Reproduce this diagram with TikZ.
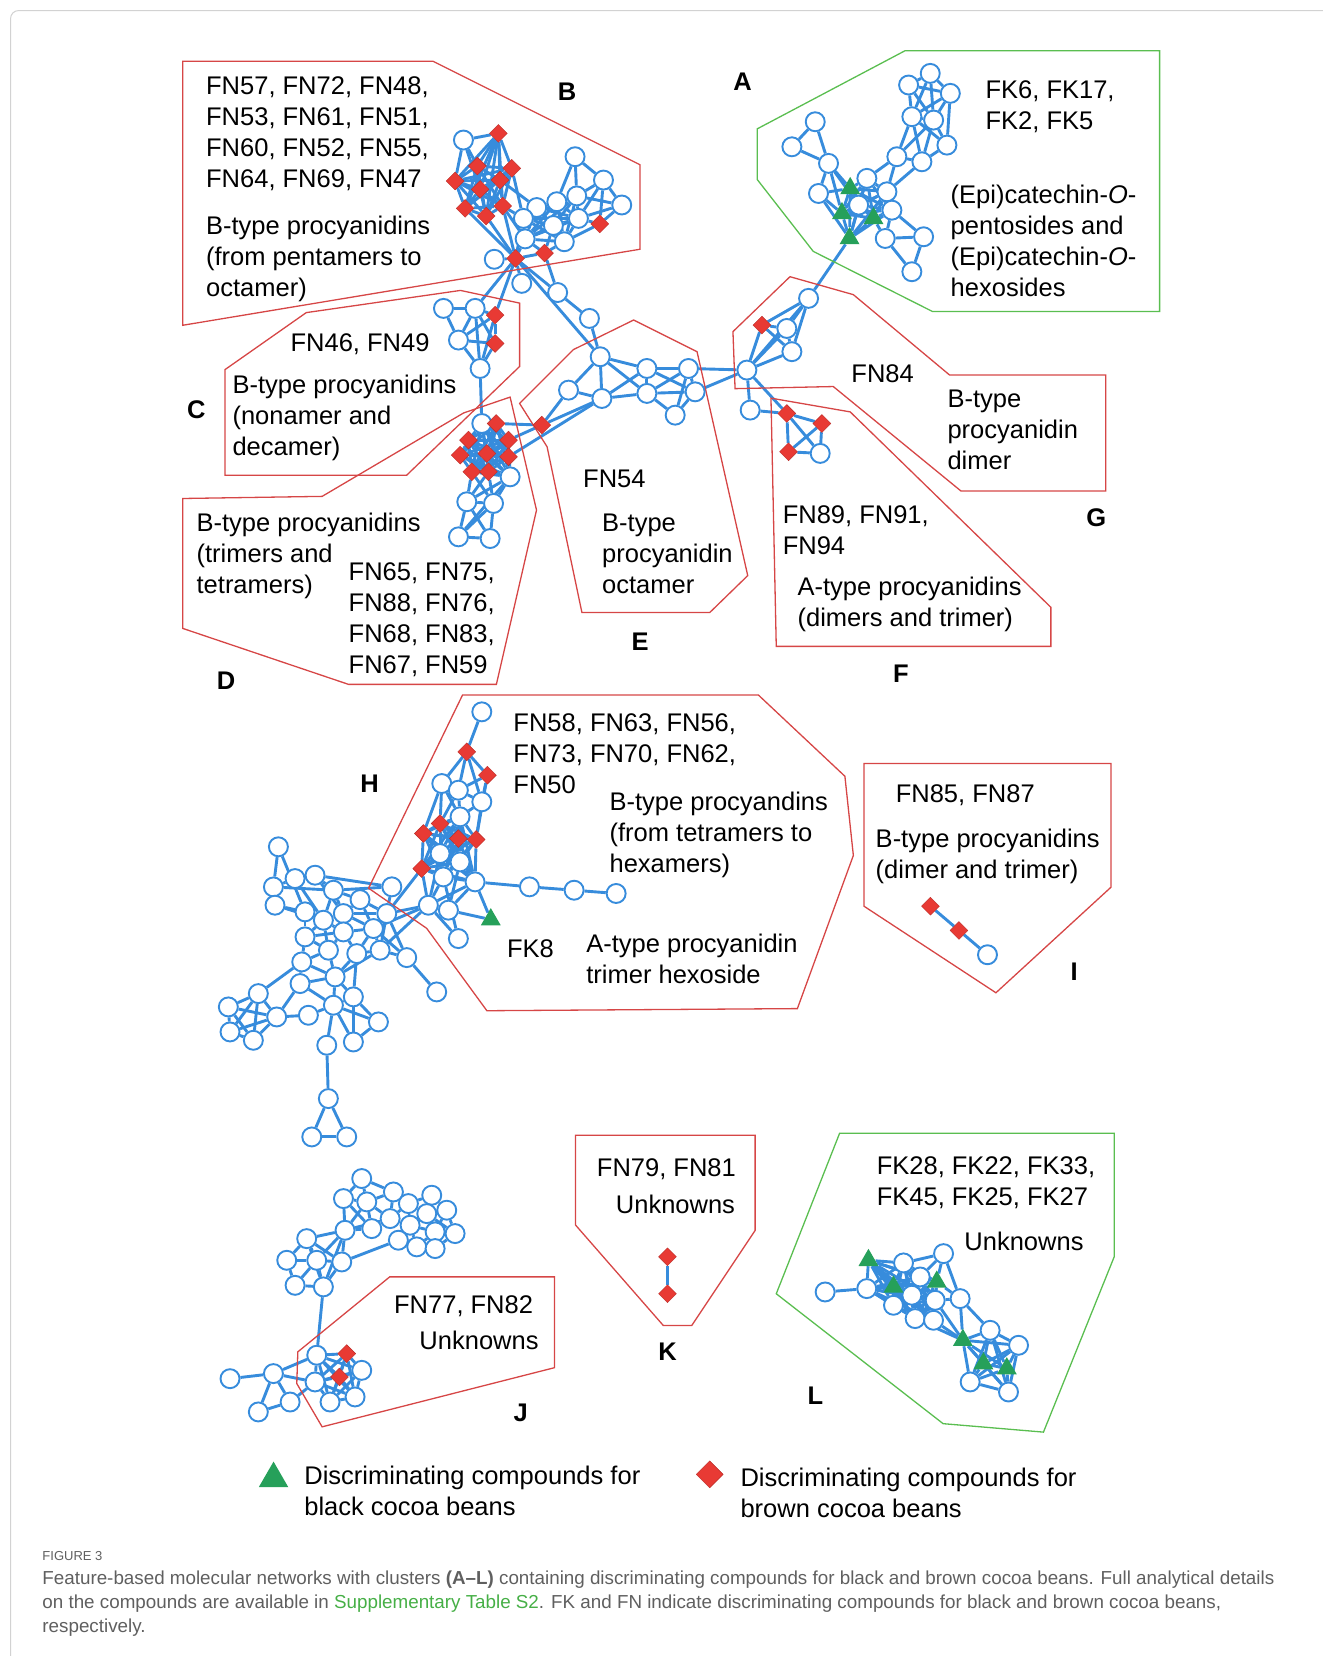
\documentclass[tikz,border=0pt]{standalone}
\usepackage{fontspec}
\setmainfont{Liberation Sans}
\usetikzlibrary{shapes.geometric}

\definecolor{netblue}{RGB}{55,140,220}
\definecolor{fnred}{RGB}{232,58,52}
\definecolor{fkgreen}{RGB}{38,160,90}
\definecolor{boxred}{RGB}{214,70,70}
\definecolor{boxgreen}{RGB}{90,190,80}
\definecolor{capgray}{RGB}{95,95,95}
\definecolor{supgreen}{RGB}{70,175,70}

\pgfdeclarelayer{edges}
\pgfsetlayers{edges,main}

\newcommand\netfont{\fontsize{25.5}{31}\selectfont}
% all pairs of a numbered group of nodes
\newcommand\clique[2]{\foreach \i in {1,...,#2}{\foreach \j in {1,...,#2}{\ifnum\i<\j\relax \draw[edge] (#1\i) -- (#1\j);\fi}}}

\begin{document}
\begin{tikzpicture}[x=1.0559pt, y=-1.0559pt,
    nd/.style={circle, draw=netblue, fill=white, line width=1.9pt, inner sep=0, minimum size=19pt},
    fn/.style={diamond, fill=fnred, draw=fnred!80!black, line width=0.4pt, inner sep=0, minimum size=18pt},
    fk/.style={regular polygon, regular polygon sides=3, fill=fkgreen, inner sep=0, minimum size=23pt},
    edge/.style={netblue, line width=2.9pt},
    redbox/.style={boxred, line width=1.3pt},
    greenbox/.style={boxgreen, line width=1.3pt},
    lbl/.style={anchor=base west, align=left, inner sep=0, font=\netfont},
    tag/.style={font=\netfont\bfseries, inner sep=0}]

    \useasboundingbox (0,0) rectangle (1252,1568);
    \draw[gray!35, line width=1pt, rounded corners=8] (10,10) rectangle (1270,1590);

    % cluster outlines
    \draw[redbox] (173,58) -- (410,58) -- (606,156) -- (606,236) -- (173,308) -- cycle;
    \draw[greenbox] (717,122) -- (857,48) -- (1098,48) -- (1098,295) -- (883,295) -- (770,238) -- (717,170) -- cycle;
    \draw[redbox] (213,350) -- (290,296) -- (436,275) -- (492,287) -- (492,347) -- (385,450) -- (213,450) -- cycle;
    \draw[redbox] (173,472) -- (305,470) -- (439,391) -- (483,376) -- (508,483) -- (470,648) -- (330,648) -- (173,595) -- cycle;
    \draw[redbox] (492,382) -- (543,331) -- (600,303) -- (660,333) -- (708,545) -- (672,580) -- (551,580) -- (518,423) -- cycle;
    \draw[redbox] (694,314) -- (748,262) -- (808,279) -- (899,355) -- (1047,355) -- (1047,465) -- (910,465) -- (789,366) -- (696,368) -- cycle;
    \draw[redbox] (730,377) -- (805,390) -- (995,575) -- (995,612) -- (735,612) -- cycle;
    \draw[redbox] (438,658) -- (718,658) -- (800,735) -- (808,810) -- (755,955) -- (461,957) -- (404,879) -- (349,841) -- cycle;
    \draw[redbox] (818,723) -- (1052,723) -- (1052,840) -- (943,940) -- (818,858) -- cycle;
    \draw[redbox] (545,1075) -- (715,1075) -- (715,1165) -- (655,1255) -- (628,1255) -- (545,1160) -- cycle;
    \draw[redbox] (369,1209) -- (525,1209) -- (525,1295) -- (305,1351) -- (281,1310) -- (282,1280) -- cycle;
    \draw[greenbox] (795,1073) -- (1055,1073) -- (1055,1190) -- (988,1356) -- (893,1348) -- (735,1225) -- cycle;

    % cluster B
    \node[nd] (b0) at (438.8,132.6) {};
    \node[fn] (bl1) at (471.9,126.3) {};
    \node[fn] (bl2) at (452.0,157.2) {};
    \node[fn] (bl3) at (484.6,159.4) {};
    \node[fn] (bl4) at (430.9,171.4) {};
    \node[fn] (bl5) at (454.6,179.3) {};
    \node[fn] (bl6) at (473.5,170.5) {};
    \node[fn] (bl7) at (440.4,197.3) {};
    \node[fn] (bl8) at (460.3,204.6) {};
    \node[fn] (bl9) at (476.0,195.1) {};
    \node[nd] (b1) at (544.5,148.4) {};
    \node[nd] (b2) at (571.4,170.5) {};
    \node[nd] (b3) at (588.7,194.1) {};
    \node[nd] (br1) at (546.1,185.5) {};
    \node[nd] (br2) at (527.2,191.0) {};
    \node[nd] (br3) at (508.2,196.5) {};
    \node[nd] (br4) at (495.6,206.8) {};
    \node[nd] (br5) at (524.0,213.5) {};
    \node[nd] (br6) at (547.7,206.8) {};
    \node[nd] (br7) at (497.2,226.2) {};
    \node[nd] (br8) at (534.3,228.9) {};
    \node[fn] (bd10) at (567.9,212.0) {};
    \node[fn] (bd11) at (488.2,244.7) {};
    \node[fn] (bd12) at (515.6,239.6) {};
    \node[nd] (b12) at (468.0,245.5) {};
    \node[nd] (b13) at (494.0,268.3) {};
    \node[nd] (b14) at (528.0,277.0) {};
    \node[nd] (b15) at (558.1,301.5) {};

    % cluster C
    \node[nd] (c1) at (419.9,292.0) {};
    \node[nd] (c2) at (449.9,292.0) {};
    \node[fn] (cd1) at (468.8,298.4) {};
    \node[nd] (c3) at (434.1,322.0) {};
    \node[fn] (cd2) at (468.8,325.2) {};
    \node[nd] (c4) at (454.6,348.9) {};

    % cluster D
    \node[nd] (dc1) at (456.2,401.0) {};
    \node[fn] (dc2) at (469.8,401.0) {};
    \node[fn] (dc3) at (443.6,416.7) {};
    \node[fn] (dc4) at (481.5,416.7) {};
    \node[fn] (dc5) at (435.7,431.0) {};
    \node[fn] (dc6) at (461.0,429.4) {};
    \node[fn] (dc7) at (481.5,432.5) {};
    \node[fn] (dc8) at (446.7,446.7) {};
    \node[fn] (dc9) at (462.5,446.7) {};
    \node[nd] (dc10) at (483.0,451.5) {};
    \node[nd] (d2) at (442.0,475.1) {};
    \node[nd] (d3) at (467.3,476.7) {};
    \node[nd] (d4) at (434.1,508.3) {};
    \node[nd] (d5) at (464.1,509.9) {};
    \node[fn] (x1) at (513.0,402.5) {};

    % cluster E
    \node[nd] (e1) at (568.3,337.8) {};
    \node[nd] (e2) at (538.3,369.4) {};
    \node[nd] (e3) at (569.9,377.3) {};
    \node[nd] (e4) at (612.5,348.9) {};
    \node[nd] (e5) at (612.5,372.5) {};
    \node[nd] (e6) at (651.9,348.9) {};
    \node[nd] (e7) at (658.2,371.0) {};
    \node[nd] (e8) at (639.3,393.1) {};

    % clusters G and F
    \node[nd] (g1) at (765.6,282.5) {};
    \node[fn] (gd1) at (721.4,307.8) {};
    \node[nd] (g2) at (745.0,311.0) {};
    \node[nd] (g3) at (749.8,333.0) {};
    \node[nd] (g0) at (707.2,350.4) {};
    \node[nd] (f1) at (710.3,388.3) {};
    \node[fn] (fd1) at (745.0,391.5) {};
    \node[fn] (fd2) at (778.2,401.0) {};
    \node[fn] (fd3) at (746.6,427.8) {};
    \node[nd] (f2) at (776.6,429.3) {};

    % cluster A
    \node[nd] (a1) at (771.9,115.3) {};
    \node[nd] (a2) at (749.8,139.0) {};
    \node[nd] (a3) at (784.5,154.7) {};
    \node[nd] (a4) at (775.0,183.2) {};
    \node[nd] (ac2) at (820.8,168.9) {};
    \node[nd] (ac3) at (839.8,181.6) {};
    \node[nd] (ac4) at (813.0,194.2) {};
    \node[nd] (ac5) at (844.5,199.0) {};
    \node[nd] (a9) at (838.2,225.8) {};
    \node[nd] (a10) at (874.5,224.2) {};
    \node[nd] (a11) at (863.4,257.3) {};
    \node[nd] (a12) at (849.2,148.4) {};
    \node[nd] (a13) at (872.9,153.2) {};
    \node[nd] (a14) at (863.4,110.5) {};
    \node[nd] (a15) at (884.0,113.7) {};
    \node[nd] (a16) at (896.6,137.4) {};
    \node[nd] (a17) at (860.3,80.5) {};
    \node[nd] (a18) at (880.8,69.5) {};
    \node[nd] (a19) at (899.8,88.4) {};
    \node[fk] (ac1) at (805.0,178.4) {};
    \node[fk] (ac6) at (797.2,202.1) {};
    \node[fk] (ac7) at (827.1,206.8) {};
    \node[fk] (ac8) at (804.4,225.8) {};

    % cluster H
    \node[nd] (h1) at (456.2,674.0) {};
    \node[fn] (hd1) at (441.9,711.9) {};
    \node[fn] (hd2) at (461.5,734.0) {};
    \node[nd] (h2) at (418.3,741.9) {};
    \node[nd] (h3) at (434.0,748.2) {};
    \node[nd] (h4) at (456.2,759.2) {};
    \node[nd] (hc1) at (435.6,773.4) {};
    \node[nd] (hc6) at (416.7,808.2) {};
    \node[nd] (hc7) at (435.6,816.1) {};
    \node[nd] (hc9) at (419.8,830.3) {};
    \node[nd] (hc10) at (449.8,835.0) {};
    \node[fn] (hc2) at (416.7,779.8) {};
    \node[fn] (hc3) at (400.9,789.2) {};
    \node[fn] (hc4) at (434.0,794.0) {};
    \node[fn] (hc5) at (450.8,794.9) {};
    \node[fn] (hc8) at (399.3,822.4) {};
    \node[nd] (h5) at (501.3,839.7) {};
    \node[nd] (h6) at (543.6,842.9) {};
    \node[nd] (h7) at (583.4,846.0) {};
    \node[nd] (h8) at (405.6,857.1) {};
    \node[nd] (h9) at (424.6,861.8) {};
    \node[fk] (ht) at (464.7,870.7) {};
    \node[nd] (h10) at (434.0,888.7) {};
    \node[nd] (h11) at (371.0,839.7) {};

    \node[nd] (m1) at (263.6,801.8) {};
    \node[nd] (m2) at (258.9,839.8) {};
    \node[nd] (m3) at (279.4,831.9) {};
    \node[nd] (m4) at (298.3,828.7) {};
    \node[nd] (m5) at (260.4,857.1) {};
    \node[nd] (m6) at (315.7,842.9) {};
    \node[nd] (m7) at (340.9,851.8) {};
    \node[nd] (m8) at (288.8,863.4) {};
    \node[nd] (m9) at (306.2,871.3) {};
    \node[nd] (m10) at (325.1,865.0) {};
    \node[nd] (m11) at (366.2,865.0) {};
    \node[nd] (m12) at (288.8,887.1) {};
    \node[nd] (m13) at (325.1,882.4) {};
    \node[nd] (m14) at (353.6,879.2) {};
    \node[nd] (m15) at (311.0,899.7) {};
    \node[nd] (m16) at (337.8,902.9) {};
    \node[nd] (m17) at (359.9,899.7) {};
    \node[nd] (m18) at (385.1,906.7) {};
    \node[nd] (m19) at (285.7,910.8) {};
    \node[nd] (m20) at (317.3,925.0) {};
    \node[nd] (m21) at (413.5,939.2) {};
    \node[nd] (m22) at (284.1,931.3) {};
    \node[nd] (m23) at (244.6,940.8) {};
    \node[nd] (m24) at (216.2,953.4) {};
    \node[nd] (m25) at (262.0,962.9) {};
    \node[nd] (m26) at (217.8,977.1) {};
    \node[nd] (m27) at (239.9,985.0) {};
    \node[nd] (m28) at (292.0,961.3) {};
    \node[nd] (m29) at (315.7,951.8) {};
    \node[nd] (m30) at (334.6,943.9) {};
    \node[nd] (m31) at (358.3,967.6) {};
    \node[nd] (m32) at (334.6,986.6) {};
    \node[nd] (m33) at (309.4,989.7) {};
    \node[nd] (m34) at (310.9,1040.2) {};
    \node[nd] (m35) at (295.2,1076.5) {};
    \node[nd] (m36) at (328.3,1076.5) {};

    % cluster I
    \node[fn] (id1) at (881,858) {};
    \node[fn] (id2) at (908,881) {};
    \node[nd] (i1) at (935,904) {};

    % cluster J
    \node[nd] (j1) at (342.5,1115.9) {};
    \node[nd] (j2) at (325.2,1134.9) {};
    \node[nd] (j3) at (347.3,1138.0) {};
    \node[nd] (j4) at (372.5,1128.6) {};
    \node[nd] (j5) at (369.4,1153.8) {};
    \node[nd] (j6) at (352.0,1163.3) {};
    \node[nd] (j7) at (326.7,1164.9) {};
    \node[nd] (j8) at (386.7,1139.6) {};
    \node[nd] (j9) at (408.8,1131.7) {};
    \node[nd] (j10) at (423.0,1145.9) {};
    \node[nd] (j11) at (404.1,1149.1) {};
    \node[nd] (j12) at (388.3,1160.1) {};
    \node[nd] (j13) at (430.9,1168.0) {};
    \node[nd] (j14) at (412.0,1166.4) {};
    \node[nd] (j15) at (377.2,1174.3) {};
    \node[nd] (j16) at (394.6,1180.6) {};
    \node[nd] (j17) at (412.0,1182.2) {};
    \node[nd] (j18) at (290.4,1172.8) {};
    \node[nd] (j19) at (271.5,1193.3) {};
    \node[nd] (j20) at (299.9,1193.3) {};
    \node[nd] (j21) at (323.6,1194.9) {};
    \node[nd] (j23) at (279.4,1217.0) {};
    \node[nd] (j24) at (306.2,1218.5) {};
    \node[nd] (jc1) at (299.9,1283.2) {};
    \node[nd] (jc4) at (342.5,1297.5) {};
    \node[nd] (jc5) at (298.3,1308.5) {};
    \node[nd] (jc6) at (312.5,1327.5) {};
    \node[nd] (jc7) at (336.2,1322.7) {};
    \node[fn] (jc2) at (328.3,1281.7) {};
    \node[fn] (jc3) at (321.4,1303.8) {};
    \node[nd] (j26) at (258.9,1300.6) {};
    \node[nd] (j27) at (217.8,1305.4) {};
    \node[nd] (j28) at (274.7,1327.5) {};
    \node[nd] (j29) at (244.6,1336.9) {};

    % cluster K
    \node[fn] (kd1) at (632,1190) {};
    \node[fn] (kd2) at (632,1225) {};

    % cluster L
    \node[nd] (l1) at (781.3,1223.3) {};
    \node[nd] (l4) at (893.4,1187.0) {};
    \node[nd] (l8) at (909.1,1229.6) {};
    \node[nd] (lc2) at (855.5,1195.8) {};
    \node[nd] (lc3) at (820.7,1220.1) {};
    \node[nd] (lc5) at (871.3,1209.1) {};
    \node[nd] (lc7) at (863.4,1226.4) {};
    \node[nd] (lc8) at (885.5,1231.2) {};
    \node[nd] (lc9) at (846.0,1235.9) {};
    \node[nd] (lc10) at (866.5,1248.5) {};
    \node[nd] (lc11) at (883.9,1250.1) {};
    \node[fk] (lc1) at (822.3,1193.3) {};
    \node[fk] (lc4) at (846.0,1218.5) {};
    \node[fk] (lc6) at (887.0,1213.8) {};
    \node[nd] (lr2) at (937.5,1259.6) {};
    \node[nd] (lr3) at (964.4,1273.8) {};
    \node[nd] (lr6) at (918.6,1308.5) {};
    \node[nd] (lr7) at (954.9,1318.0) {};
    \node[fk] (lr1) at (911.7,1269.0) {};
    \node[fk] (lr4) at (931.2,1291.1) {};
    \node[fk] (lr5) at (953.3,1295.9) {};

    \begin{pgfonlayer}{edges}
    \clique{bl}{9} \clique{br}{8} \clique{dc}{10} \clique{ac}{8}
    \clique{hc}{10} \clique{jc}{7} \clique{lc}{11} \clique{lr}{7}
    \foreach \a/\b in {b0/bl1,b0/bl2,b0/bl4,b0/bl5,bl3/br4,bl6/br3,bl9/br4,bl9/br7,bl8/bd11,bl7/bd11,bl9/bd11,
        b1/b2,b1/br1,b1/br2,b2/b3,b2/br1,b2/br6,b2/bd10,b3/bd10,b3/br6,b3/br1,br6/bd10,br8/bd10,
        br7/bd11,br7/bd12,br8/bd12,br5/bd12,br4/bd11,bd11/bd12,bd11/b12,bd11/b13,bd11/b14,bd12/b14,
        b14/b15,b15/e1,bd11/e1,bd11/cd1,bd11/c2,
        c1/c2,c1/c3,c2/c3,c2/cd1,c2/cd2,c2/c4,c3/cd1,c3/c4,cd1/cd2,cd1/c4,cd2/c4,c3/cd2,c4/dc1,
        dc8/d2,dc9/d2,dc9/d3,dc10/d3,dc10/d2,d2/d3,d2/d4,d2/d5,d3/d4,d3/d5,d4/d5,dc8/d3,dc10/d4,
        dc2/x1,dc4/x1,x1/e2,x1/e3,dc7/e3,
        e1/e2,e1/e3,e1/e4,e1/e5,e2/e3,e3/e4,e3/e5,e4/e6,e4/e5,e5/e6,e5/e7,e4/e7,e6/e7,e6/e8,e7/e8,e5/e8,
        e6/g0,e7/g0,
        g1/gd1,g1/g2,g1/g3,g1/g0,gd1/g2,gd1/g3,gd1/g0,g2/g3,g3/g0,g2/g0,g0/f1,g0/fd1,f1/fd1,
        fd1/fd2,fd1/fd3,fd1/f2,fd2/fd3,fd2/f2,fd3/f2,ac8/g1}
        \draw[edge] (\a) -- (\b);
    \foreach \a/\b in {a1/a2,a1/a3,a2/a3,a3/a4,a3/ac1,a3/ac4,a3/ac6,a4/ac6,a4/ac8,a4/ac1,
        ac2/a12,ac3/a12,ac3/a13,a12/a13,a12/a14,a12/a15,a13/a14,a13/a15,a13/a16,a14/a15,a15/a16,a14/a16,
        a14/a17,a14/a18,a14/a19,a15/a17,a15/a18,a15/a19,a17/a18,a18/a19,a17/a19,a16/a19,
        ac5/a10,ac7/a9,ac5/a9,a9/a10,a9/a11,a10/a11}
        \draw[edge] (\a) -- (\b);
    \foreach \a/\b in {h1/hd1,hd1/hd2,hd1/h2,hd1/h3,hd1/h4,hd2/h3,hd2/h4,hd2/hc5,h2/h3,h2/hc2,h2/hc3,
        h3/h4,h3/hc1,h4/hc1,h4/hc5,h2/hc1,h3/hc2,
        hc10/h5,h5/h6,h6/h7,hc10/ht,h9/ht,h8/hc10,h8/h9,h8/hc9,h9/hc10,h9/hc7,h8/h10,hc8/h8,hc9/h10,h8/hc6,
        m6/h11,h11/m11,hc8/m11,h8/m11,h8/m14,m17/h8,
        m1/m2,m1/m8,m2/m3,m2/m5,m2/m6,m3/m4,m3/m9,m4/m6,m4/m10,m4/h11,m5/m8,m5/m9,
        m6/m7,m6/m9,m6/m10,m7/m10,m7/m11,m7/m14,m8/m9,m8/m12,m9/m10,m9/m12,m9/m13,m9/m15,
        m10/m13,m10/m11,m10/m14,m11/m14,m11/m17,m11/m18,m12/m15,m12/m13,m12/m19,
        m13/m15,m13/m16,m13/m14,m14/m16,m14/m17,m14/m18,m15/m19,m15/m20,m16/m20,m16/m17,m17/m18,
        m18/m21,m19/m20,m19/m23,m19/m22,m20/m22,m20/m29,m20/m30,m20/m17,m22/m25,m22/m29,
        m23/m24,m23/m25,m23/m26,m23/m27,m24/m25,m24/m26,m24/m27,m25/m26,m25/m27,m26/m27,
        m25/m28,m28/m29,m29/m30,m29/m31,m29/m32,m29/m33,m30/m31,m30/m32,m31/m32,m16/m30,
        m33/m34,m34/m35,m34/m36,m35/m36}
        \draw[edge] (\a) -- (\b);
    \foreach \a/\b in {id1/id2,id2/i1,kd1/kd2,
        j1/j2,j1/j3,j1/j4,j2/j3,j2/j7,j2/j6,j3/j4,j3/j5,j3/j6,j3/j7,j4/j5,j4/j8,j5/j6,j5/j8,j5/j12,
        j6/j7,j5/j7,j7/j21,j7/j18,j7/j20,j7/j24,j15/j21,j8/j9,j8/j11,j8/j12,j9/j10,j9/j11,j10/j11,
        j10/j13,j11/j12,j11/j14,j12/j14,j12/j15,j12/j16,j13/j14,j13/j17,j14/j16,j14/j17,j15/j16,
        j16/j17,j11/j13,j10/j14,
        j18/j19,j18/j20,j18/j21,j19/j20,j19/j23,j20/j21,j20/j23,j20/j24,j21/j24,j23/j24,j18/j24,
        j24/jc1,j27/j26,j26/jc1,j26/jc5,j26/j28,j26/j29,j29/j28,j28/jc5,
        l1/lc3,l4/lc2,l4/lc6,l4/l8,l4/lc5,l8/lc6,l8/lc8,l8/lr1,l8/lr2,lc11/lr1,lc10/lr1,lc8/lr1}
        \draw[edge] (\a) -- (\b);
    \end{pgfonlayer}

    % cluster texts (placed at the baseline of their last line)
    \node[lbl] (B_ids) at (195,177.1) {FN57, FN72, FN48,\\FN53, FN61, FN51,\\FN60, FN52, FN55,\\FN64, FN69, FN47};
    \node[lbl] (B_desc) at (195,280.7) {B-type procyanidins\\(from pentamers to\\octamer)};
    \node[lbl] (A_ids) at (933,122.4) {FK6, FK17,\\FK2, FK5};
    \node[lbl] (A_desc) at (900,281.1) {(Epi)catechin-\textit{O}-\\pentosides and\\(Epi)catechin-\textit{O}-\\hexosides};
    \node[lbl] (C_ids) at (275,333) {FN46, FN49};
    \node[lbl] (C_desc) at (220,431.7) {B-type procyanidins\\(nonamer and\\decamer)};
    \node[lbl] (D_desc) at (186,561.7) {B-type procyanidins\\(trimers and\\tetramers)};
    \node[lbl] (D_ids) at (330,638.1) {FN65, FN75,\\FN88, FN76,\\FN68, FN83,\\FN67, FN59};
    \node[lbl] (E_ids) at (552,462) {FN54};
    \node[lbl] (E_desc) at (570,561.7) {B-type\\procyanidin\\octamer};
    \node[lbl] (G_ids) at (806,362) {FN84};
    \node[lbl] (G_desc) at (897,444.7) {B-type\\procyanidin\\dimer};
    \node[lbl] (F_ids) at (741,525.4) {FN89, FN91,\\FN94};
    \node[lbl] (F_desc) at (755,593.4) {A-type procyanidins\\(dimers and trimer)};
    \node[lbl] (H_ids) at (486,751.7) {FN58, FN63, FN56,\\FN73, FN70, FN62,\\FN50};
    \node[lbl] (H_desc) at (577,825.7) {B-type procyandins\\(from tetramers to\\hexamers)};
    \node[lbl] (H_fk) at (480,907) {FK8};
    \node[lbl] (H_desc2) at (555,931.4) {A-type procyanidin\\trimer hexoside};
    \node[lbl] (I_ids) at (848,760) {FN85, FN87};
    \node[lbl] (I_desc) at (829,831.4) {B-type procyanidins\\(dimer and trimer)};
    \node[lbl] (K_ids) at (565,1114) {FN79, FN81};
    \node[lbl] (K_desc) at (583,1149) {Unknowns};
    \node[lbl] (J_ids) at (373,1244) {FN77, FN82};
    \node[lbl] (J_desc) at (397,1278) {Unknowns};
    \node[lbl] (L_ids) at (830,1141.4) {FK28, FK22, FK33,\\FK45, FK25, FK27};
    \node[lbl] (L_desc) at (913,1184) {Unknowns};

    % cluster letters
    \node[tag] (A_tag) at (703,77) {A};
    \node[tag] (B_tag) at (537,87) {B};
    \node[tag] (C_tag) at (186,388) {C};
    \node[tag] (D_tag) at (214,645) {D};
    \node[tag] (E_tag) at (606,608) {E};
    \node[tag] (F_tag) at (853,638) {F};
    \node[tag] (G_tag) at (1038,490) {G};
    \node[tag] (H_tag) at (350,742) {H};
    \node[tag] (I_tag) at (1017,920) {I};
    \node[tag] (J_tag) at (493,1338) {J};
    \node[tag] (K_tag) at (632,1280) {K};
    \node[tag] (L_tag) at (772,1322) {L};

    % legend
    \node[fk, minimum size=34pt] (key_fk) at (259,1400) {};
    \node[lbl] (key_fk_text) at (288,1435.4) {Discriminating compounds for\\black cocoa beans};
    \node[fn, minimum size=27pt] (key_fn) at (672,1396) {};
    \node[lbl] (key_fn_text) at (701,1436.4) {Discriminating compounds for\\brown cocoa beans};

    % caption
    \node[anchor=west, inner sep=0, text=capgray, font=\fontsize{13}{15}\selectfont] (fig_no) at (40,1473) {FIGURE 3};
    \node[anchor=base west, align=left, inner sep=0, text=capgray, font=\fontsize{18.8}{24.3}\selectfont] (caption) at (40,1546)
        {Feature-based molecular networks with clusters \textbf{(A–L)} containing discriminating compounds for black and brown cocoa beans. Full analytical details\\
         on the compounds are available in \textcolor{supgreen}{Supplementary Table S2}. FK and FN indicate discriminating compounds for black and brown cocoa beans,\\
         respectively.};
\end{tikzpicture}
\end{document}
